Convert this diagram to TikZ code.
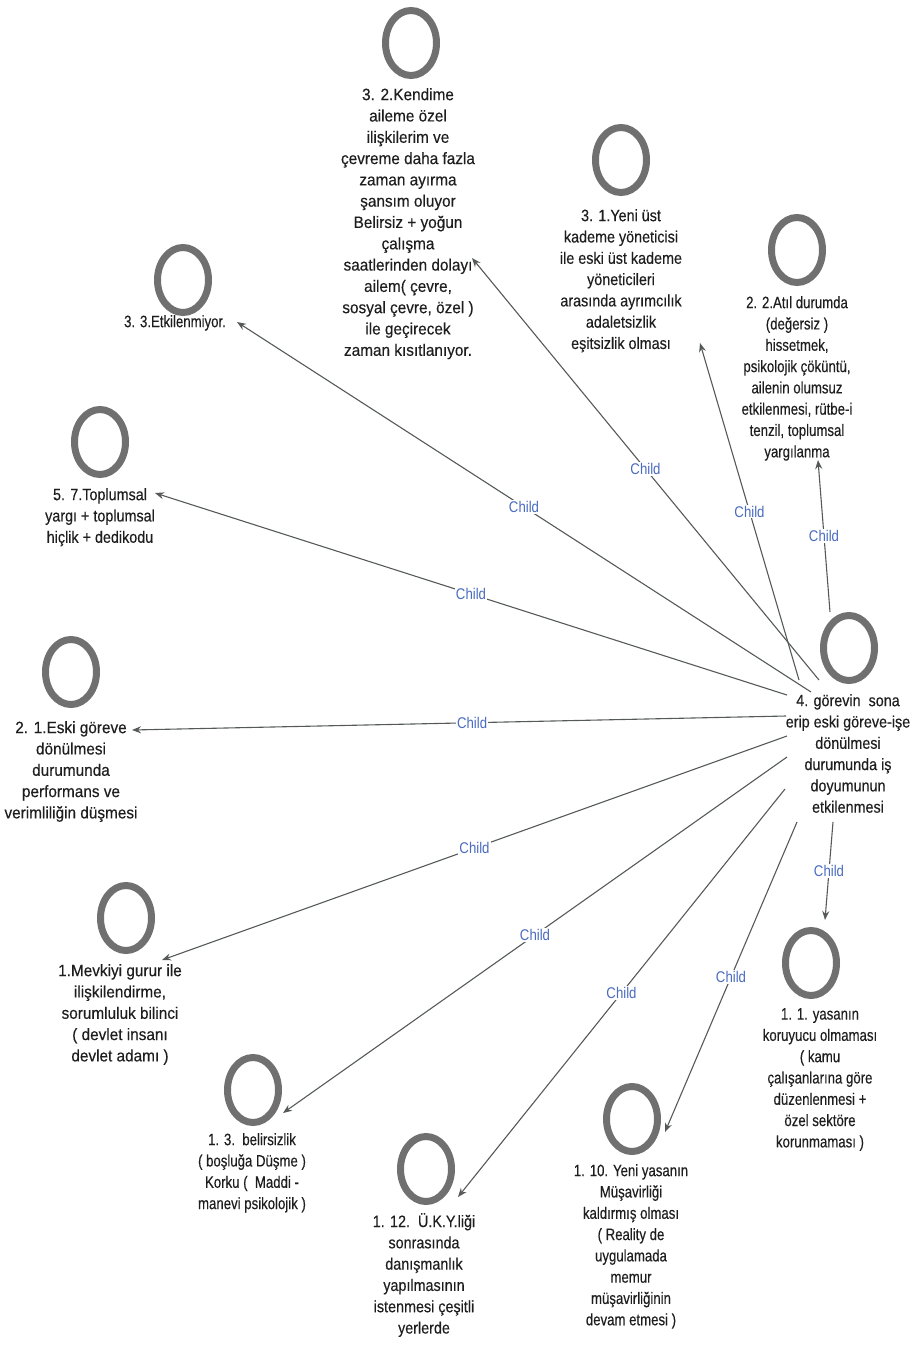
\documentclass[tikz,border=0pt]{standalone}
\usepackage{fontspec}
\setmainfont{Liberation Sans}[FakeStretch=0.80,FakeBold=0.3]
\newfontfamily\midface{Liberation Sans}[FakeStretch=0.87,FakeBold=0.3]
\newfontfamily\wideface{Liberation Sans}[FakeStretch=0.93,FakeBold=0.3]
\newfontfamily\tagface{Liberation Sans}[FakeStretch=0.85]
\usetikzlibrary{shapes.geometric,arrows.meta}
\definecolor{ringgray}{HTML}{707070}
\definecolor{linkgray}{HTML}{555A58}
\definecolor{childblue}{HTML}{4A6BC0}
\definecolor{inkdark}{HTML}{1E1E1E}
\begin{document}
\begin{tikzpicture}[x=1pt,y=-1pt,
  ring/.style={ellipse,draw=ringgray,line width=7pt,minimum width=51pt,minimum height=65pt,inner sep=0pt},
  caption/.style={anchor=north,align=center,inner sep=0pt,text=inkdark,font=\fontsize{16.5}{21.3}\selectfont},
  midcap/.style={caption,font=\fontsize{16.5}{21.3}\midface},
  widecap/.style={caption,font=\fontsize{16.5}{21.3}\wideface},
  link/.style={draw=linkgray,line width=1.1pt,-{Stealth[length=9pt,width=7pt]}},
  childtag/.style={text=childblue,fill=white,inner sep=1pt,font=\fontsize{15.5}{17}\tagface}]
\useasboundingbox (0,0) rectangle (912,1345);

% central topic
\node[ring] (e4) at (849,648) {};
\node[midcap] (t4) at (848,694) {4. görevin\ \ sona\\erip eski göreve-işe\\dönülmesi\\durumunda iş\\doyumunun\\etkilenmesi};

% children: rings and captions
\node[ring] (e32) at (411,43) {};
\node[widecap] (t32) at (408,88) {3. 2.Kendime\\aileme özel\\ilişkilerim ve\\çevreme daha fazla\\zaman ayırma\\şansım oluyor\\Belirsiz + yoğun\\çalışma\\saatlerinden dolayı\\ailem( çevre,\\sosyal çevre, özel )\\ile geçirecek\\zaman kısıtlanıyor.};

\node[ring] (e31) at (621,160) {};
\node[midcap] (t31) at (621,209) {3. 1.Yeni üst\\kademe yöneticisi\\ile eski üst kademe\\yöneticileri\\arasında ayrımcılık\\adaletsizlik\\eşitsizlik olması};

\node[ring] (e22) at (797,250) {};
\node[caption] (t22) at (797,296) {2. 2.Atıl durumda\\(değersiz )\\hissetmek,\\psikolojik çöküntü,\\ailenin olumsuz\\etkilenmesi, rütbe-i\\tenzil, toplumsal\\yargılanma};

\node[ring] (e33) at (183,280) {};
\node[caption] (t33) at (175,315) {3. 3.Etkilenmiyor.};

\node[ring] (e57) at (100,442) {};
\node[midcap] (t57) at (100,488) {5. 7.Toplumsal\\yargı + toplumsal\\hiçlik + dedikodu};

\node[ring] (e21) at (71,672) {};
\node[widecap] (t21) at (71,721) {2. 1.Eski göreve\\dönülmesi\\durumunda\\performans ve\\verimliliğin düşmesi};

\node[ring] (e1) at (126,918) {};
\node[widecap] (t1) at (120,964) {1.Mevkiyi gurur ile\\ilişkilendirme,\\sorumluluk bilinci\\( devlet insanı\\devlet adamı )};

\node[ring] (e13) at (253,1090) {};
\node[caption] (t13) at (252,1133) {1. 3.\ \ belirsizlik\\( boşluğa Düşme )\\Korku (\ \ Maddi -\\manevi psikolojik )};

\node[ring] (e112) at (426,1169) {};
\node[midcap] (t112) at (424,1213) {1. 12.\ \ Ü.K.Y.liği\\sonrasında\\danışmanlık\\yapılmasının\\istenmesi çeşitli\\yerlerde};

\node[ring] (e110) at (632,1119) {};
\node[caption] (t110) at (631,1164) {1. 10. Yeni yasanın\\Müşavirliği\\kaldırmış olması\\( Reality de\\uygulamada\\memur\\müşavirliğinin\\devam etmesi )};

\node[ring] (e11) at (811,963) {};
\node[caption] (t11) at (820,1008) {1. 1. yasanın\\koruyucu olmaması\\( kamu\\çalışanlarına göre\\düzenlenmesi +\\özel sektöre\\korunmaması )};

% connector ends on the central topic
\coordinate (s22) at (830,612);
\coordinate (s31) at (799,680);
\coordinate (s32) at (819,680);
\coordinate (s33) at (811,692);
\coordinate (s57) at (787,695);
\coordinate (s21) at (786,716);
\coordinate (s1) at (787,736);
\coordinate (s13) at (787,757);
\coordinate (s112) at (785,789);
\coordinate (s110) at (797,822);
\coordinate (s11) at (833,822);

% arrow tips beside the child captions
\coordinate (p22) at (818,460);
\coordinate (p31) at (700,343);
\coordinate (p32) at (472,258);
\coordinate (p33) at (237,322);
\coordinate (p57) at (155,493);
\coordinate (p21) at (132,730);
\coordinate (p1) at (162,960);
\coordinate (p13) at (283,1113);
\coordinate (p112) at (458,1197);
\coordinate (p110) at (665,1132);
\coordinate (p11) at (825,920);

% connectors
\draw[link] (s22) -- node[childtag] {Child} (p22);
\draw[link] (s31) -- node[childtag] {Child} (p31);
\draw[link] (s32) -- node[childtag] {Child} (p32);
\draw[link] (s33) -- node[childtag] {Child} (p33);
\draw[link] (s57) -- node[childtag] {Child} (p57);
\draw[link] (s21) -- node[childtag,pos=0.48] {Child} (p21);
\draw[link] (s1) -- node[childtag] {Child} (p1);
\draw[link] (s13) -- node[childtag] {Child} (p13);
\draw[link] (s112) -- node[childtag] {Child} (p112);
\draw[link] (s110) -- node[childtag] {Child} (p110);
\draw[link] (s11) -- node[childtag] {Child} (p11);
\end{tikzpicture}
\end{document}
